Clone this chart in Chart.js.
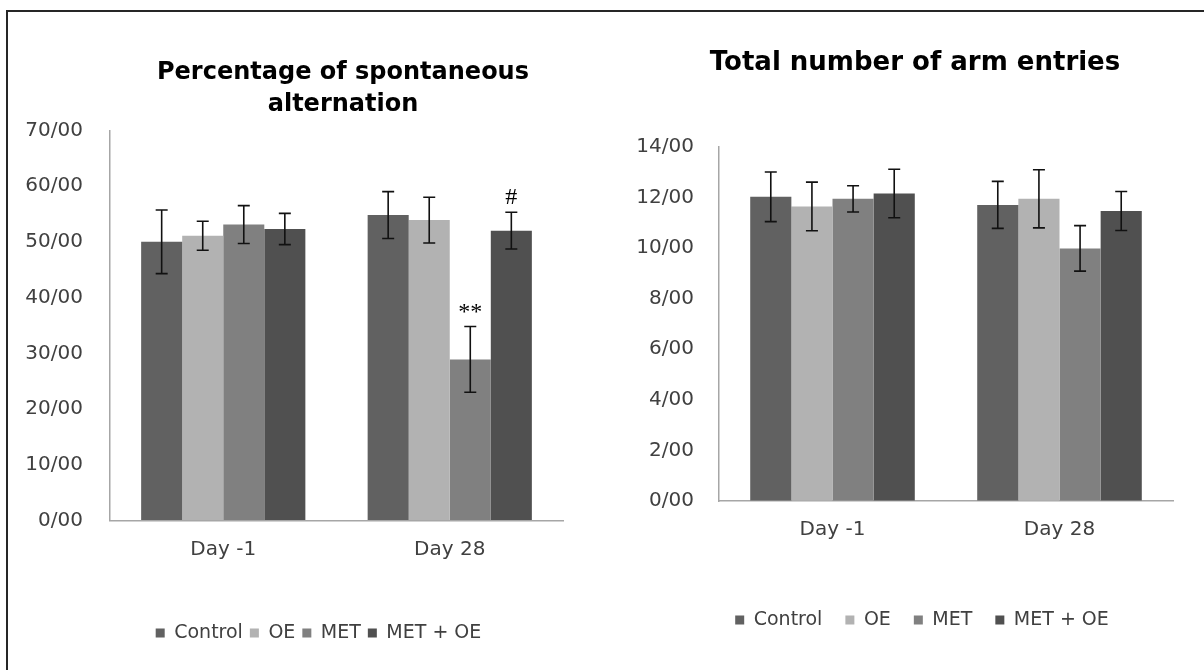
<!DOCTYPE html>
<html>
<head>
<meta charset="utf-8">
<script src="https://cdn.jsdelivr.net/npm/chart.js@4.4.0/dist/chart.umd.min.js"></script>
<style>
    html, body { margin: 0; padding: 0; background: #fff; }
    #page { position: relative; width: 1204px; height: 670px; overflow: hidden; }
    #frame { position: absolute; left: 6px; top: 10px; width: 1300px; height: 800px;
             border-left: 2px solid #262626; border-top: 2px solid #262626; }
    canvas { position: absolute; top: 0; }
    #altChart { left: 0; }
    #armChart { left: 600px; }
</style>
</head>
<body>
<div id="page">
    <div id="frame"></div>
    <canvas id="altChart" width="600" height="670"></canvas>
    <canvas id="armChart" width="604" height="670"></canvas>
</div>
<script>
const days = ['Day -1', 'Day 28'];
const seriesNames = ['Control', 'OE', 'MET', 'MET + OE'];

// Percentage of spontaneous alternation (mean, error)
const altControl = [50.0, 54.8];
const altControlErr = [5.7, 4.2];
const altOE = [51.1, 53.9];
const altOEErr = [2.6, 4.1];
const altMET = [53.1, 28.9];
const altMETErr = [3.4, 5.9];
const altMETOE = [52.3, 52.0];
const altMETOEErr = [2.8, 3.3];
const altMETMarks = ['', '**'];
const altMETOEMarks = ['', '#'];
const altTicks = ['0/00', '10/00', '20/00', '30/00', '40/00', '50/00', '60/00', '70/00'];

// Total number of arm entries (mean, error)
const armControl = [12.03, 11.71];
const armControlErr = [0.98, 0.93];
const armOE = [11.65, 11.95];
const armOEErr = [0.96, 1.15];
const armMET = [11.95, 9.99];
const armMETErr = [0.52, 0.9];
const armMETOE = [12.16, 11.47];
const armMETOEErr = [0.96, 0.77];
const armTicks = ['0/00', '2/00', '4/00', '6/00', '8/00', '10/00', '12/00', '14/00'];

const seriesColors = ['#616161', '#b2b2b2', '#808080', '#505050'];

Chart.defaults.font.family = 'DejaVu Sans';

// error bars + significance marks on top of each bar
const errorBars = {
    id: 'errorBars',
    afterDatasetsDraw(chart) {
        const { ctx } = chart;
        const y = chart.scales.y;
        ctx.save();
        chart.data.datasets.forEach((ds, i) => {
            chart.getDatasetMeta(i).data.forEach((bar, j) => {
                const top = y.getPixelForValue(ds.data[j] + ds.errors[j]);
                const bot = y.getPixelForValue(ds.data[j] - ds.errors[j]);
                ctx.strokeStyle = '#111';
                ctx.lineWidth = 1.6;
                ctx.beginPath();
                ctx.moveTo(bar.x, top); ctx.lineTo(bar.x, bot);
                ctx.moveTo(bar.x - 6, top); ctx.lineTo(bar.x + 6, top);
                ctx.moveTo(bar.x - 6, bot); ctx.lineTo(bar.x + 6, bot);
                ctx.stroke();
                const mark = ds.marks && ds.marks[j];
                if (mark) {
                    ctx.fillStyle = '#000';
                    ctx.font = '24px "Liberation Serif"';
                    ctx.textAlign = 'center';
                    ctx.textBaseline = 'alphabetic';
                    ctx.fillText(mark, bar.x, top - 8);
                }
            });
        });
        ctx.restore();
    }
};

// nudge title / legend sideways so they sit where the original had them
const boxShift = {
    id: 'boxShift',
    afterLayout(chart, args, opts) {
        [[chart.titleBlock, opts.title], [chart.legend, opts.legend]].forEach(([box, dx]) => {
            if (box && dx) { box.left += dx; box.right += dx; }
        });
    }
};

function buildSets(means, errs, marks) {
    return seriesNames.map((name, i) => ({
        label: name,
        data: means[i],
        errors: errs[i],
        marks: marks[i],
        backgroundColor: seriesColors[i],
        borderWidth: 0,
        categoryPercentage: 0.725,
        barPercentage: 1
    }));
}

function drawChart(id, s) {
    const axisGrid = { display: true, drawOnChartArea: false, drawTicks: false };
    const axisBorder = { color: '#a6a6a6', width: 1.5 };
    new Chart(document.getElementById(id), {
        type: 'bar',
        data: { labels: days, datasets: s.datasets },
        options: {
            responsive: false,
            animation: false,
            devicePixelRatio: 1,
            layout: { padding: s.padding },
            plugins: {
                title: {
                    display: true,
                    text: s.title,
                    fullSize: s.titleFull,
                    color: '#000',
                    font: { weight: 'bold', size: s.titleSize, lineHeight: s.titleLine },
                    padding: s.titlePad
                },
                legend: {
                    position: 'bottom',
                    fullSize: s.titleFull,
                    labels: {
                        boxWidth: 9,
                        boxHeight: 9,
                        padding: s.legendGap,
                        color: '#404040',
                        font: { size: 19 }
                    }
                },
                tooltip: { enabled: false },
                boxShift: s.shift
            },
            scales: {
                x: {
                    grid: axisGrid,
                    border: axisBorder,
                    ticks: { color: '#404040', padding: 17, font: { size: 20 } },
                    afterFit: sc => { sc.height = s.xHeight; }
                },
                y: {
                    min: 0,
                    max: s.max,
                    grid: axisGrid,
                    border: axisBorder,
                    ticks: {
                        stepSize: s.step,
                        padding: s.tickPad,
                        color: '#404040',
                        font: { size: 20 },
                        callback: (v, i) => s.ticks[i]
                    },
                    afterFit: sc => { sc.width = s.yWidth; }
                }
            }
        },
        plugins: [errorBars, boxShift]
    });
}

drawChart('altChart', {
    datasets: buildSets(
        [altControl, altOE, altMET, altMETOE],
        [altControlErr, altOEErr, altMETErr, altMETOEErr],
        [null, null, altMETMarks, altMETOEMarks]
    ),
    ticks: altTicks, max: 70, step: 10,
    title: ['Percentage of spontaneous', 'alternation'],
    titleFull: false, titleSize: 24, titleLine: 1.32,
    titlePad: { top: 57.4, bottom: 9.6 },
    padding: { left: 0, right: 37, top: 0, bottom: 17.5 },
    yWidth: 110, xHeight: 96, tickPad: 27, legendGap: 7,
    shift: { title: 6.5, legend: -18 }
});

drawChart('armChart', {
    datasets: buildSets(
        [armControl, armOE, armMET, armMETOE],
        [armControlErr, armOEErr, armMETErr, armMETOEErr],
        [null, null, null, null]
    ),
    ticks: armTicks, max: 14, step: 2,
    title: 'Total number of arm entries',
    titleFull: true, titleSize: 26, titleLine: 1.2,
    titlePad: { top: 47.7, bottom: 68.1 },
    padding: { left: 0, right: 31, top: 0, bottom: 30.5 },
    yWidth: 119, xHeight: 86.5, tickPad: 25, legendGap: 23,
    shift: { title: 28.5, legend: 35.5 }
});
</script>
</body>
</html>
